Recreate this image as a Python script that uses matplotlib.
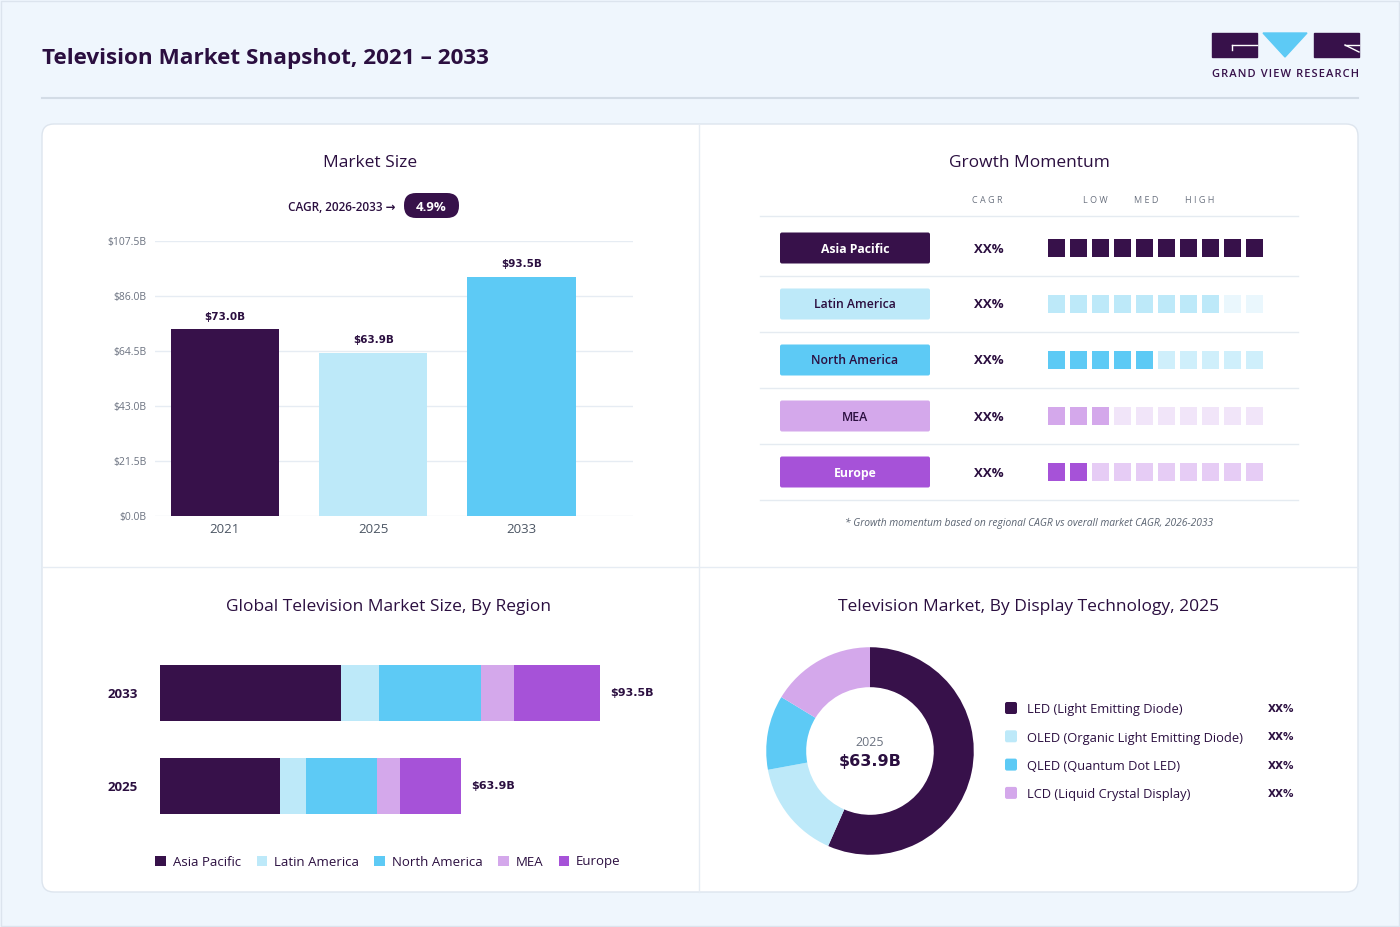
import matplotlib

matplotlib.use("Agg")
import matplotlib.pyplot as plt
from matplotlib.patches import FancyBboxPatch, Polygon, Rectangle

plt.rcParams["font.family"] = ["Open Sans", "DejaVu Sans"]

# --------------------------------------------------------------------------- #
# Data
# --------------------------------------------------------------------------- #
years = ["2021", "2025", "2033"]
market_size = [73.0, 63.9, 93.5]
y_ticks = [0.0, 21.5, 43.0, 64.5, 86.0, 107.5]
cagr_label = "4.9%"

regions = ["Asia Pacific", "Latin America", "North America", "MEA", "Europe"]
momentum_filled = [10, 8, 5, 3, 2]
momentum_cagr = ["XX%", "XX%", "XX%", "XX%", "XX%"]

region_years = ["2025", "2033"]
region_2025 = [25.5, 5.5, 15.1, 4.9, 12.9]
region_2033 = [38.5, 8.1, 21.7, 7.0, 18.2]

tech = ["LED (Light Emitting Diode)", "OLED (Organic Light Emitting Diode)",
        "QLED (Quantum Dot LED)", "LCD (Liquid Crystal Display)"]
tech_share = [56.6, 15.5, 11.6, 16.3]
tech_pct = ["XX%", "XX%", "XX%", "XX%"]

# --------------------------------------------------------------------------- #
# Style
# --------------------------------------------------------------------------- #
DARK = "#37114A"
LBLUE = "#BDE9F9"
SKY = "#5DCAF5"
LAV = "#D4A8EB"
PURP = "#A652D8"
INK = "#2B0F40"
GRAY = "#6B7280"
GRID = "#E6ECF3"
BG = "#EFF6FD"

region_colors = [DARK, LBLUE, SKY, LAV, PURP]
faded_colors = [DARK, "#EAF7FD", "#CFEFFB", "#F1E5F9", "#E6CCF5"]
label_text_colors = ["white", INK, INK, INK, "white"]
label_weights = ["bold", "semibold", "semibold", "semibold", "bold"]
year_colors = [DARK, LBLUE, SKY]
tech_colors = [DARK, LBLUE, SKY, LAV]

W, H = 1400, 927
fig = plt.figure(figsize=(W / 100, H / 100), dpi=100)
fig.patch.set_facecolor(BG)


def rect(x0, y0, x1, y1):
    """Pixel box (top-left origin) -> figure fraction rect."""
    return [x0 / W, 1 - y1 / H, (x1 - x0) / W, (y1 - y0) / H]


# overlay in pixel coordinates for card, dividers and text
ov = fig.add_axes([0, 0, 1, 1], zorder=0)
ov.set_xlim(0, W)
ov.set_ylim(H, 0)
ov.axis("off")

ov.add_patch(Rectangle((1, 1), W - 2, H - 2, fill=False, ec="#DCE4EE", lw=1))
ov.text(42, 58, "Television Market Snapshot, 2021 \u2013 2033", fontsize=16.2,
        fontweight="bold", color=INK, va="center", ha="left")
ov.plot([42, 1358], [98, 98], color="#D3DCE6", lw=1.5)

# logo
ov.add_patch(Rectangle((1212, 33), 45, 24, color=DARK))
ov.plot([1232, 1257], [45, 45], color="white", lw=1)
ov.plot([1232, 1232], [45, 50], color="white", lw=1)
ov.add_patch(Polygon([(1263, 33), (1307, 33), (1285, 57)], color=SKY))
ov.add_patch(Rectangle((1314, 33), 45, 24, color=DARK))
ov.plot([1345, 1359], [45, 45], color="white", lw=1)
ov.plot([1345, 1359], [45, 52], color="white", lw=1)
ov.text(1286, 74, "\u200a".join("GRAND VIEW RESEARCH"), fontsize=8.0, color=DARK,
        ha="center", va="center", fontweight="semibold")

# card
ov.add_patch(FancyBboxPatch((42, 124), 1316, 768,
                            boxstyle="round,pad=0,rounding_size=12",
                            fc="white", ec="#DDE5EE", lw=1))
ov.plot([699, 699], [124, 892], color=GRID, lw=1)
ov.plot([42, 1358], [567, 567], color=GRID, lw=1)

# panel titles
ov.text(370, 163, "Market Size", fontsize=12.5, color=INK, ha="center", va="center")
ov.text(1029, 163, "Growth Momentum", fontsize=12.5, color=INK, ha="center", va="center")
ov.text(388, 607, "Global Television Market Size, By Region", fontsize=12.5,
        color=INK, ha="center", va="center")
ov.text(1029, 607, "Television Market, By Display Technology, 2025", fontsize=12.5,
        color=INK, ha="center", va="center")

# --------------------------------------------------------------------------- #
# Market size
# --------------------------------------------------------------------------- #
ov.text(395, 207, "CAGR, 2026-2033 \u2192", fontsize=8.5, color=INK,
        ha="right", va="center", fontweight="semibold")
ov.add_patch(FancyBboxPatch((404, 193), 55, 25, boxstyle="round,pad=0,rounding_size=12",
                            fc=DARK, ec="none"))
ov.text(431.5, 207, cagr_label, fontsize=9.5, color="white", fontweight="bold",
        ha="center", va="center")

ax = fig.add_axes(rect(155, 241, 633, 516), zorder=1)
ax.patch.set_alpha(0)
xs = list(range(len(years)))
ax.bar(xs, market_size, width=0.73, color=year_colors, zorder=2)
for x, v in zip(xs, market_size):
    ax.text(x, v + 3.0, f"${v:.1f}B", ha="center", va="bottom", fontsize=7.5,
            fontweight="bold", color=INK, family="DejaVu Sans")
ax.set_xlim(-0.47, 2.75)
ax.set_ylim(0, 107.5)
ax.set_yticks(y_ticks)
ax.set_yticklabels([f"${t:.1f}B" for t in y_ticks], fontsize=7.5, color=GRAY)
ax.set_xticks(xs)
ax.set_xticklabels(years, fontsize=9.5, color="#4B5563")
ax.tick_params(length=0)
ax.tick_params(axis="y", pad=6)
ax.tick_params(axis="x", pad=5)
ax.grid(axis="y", color=GRID, lw=1, zorder=0)
for s in ax.spines.values():
    s.set_visible(False)

# --------------------------------------------------------------------------- #
# Growth momentum
# --------------------------------------------------------------------------- #
ov.text(987, 200, "C A G R", fontsize=6.5, color=GRAY, ha="center", va="center")
ov.text(1095, 200, "L O W", fontsize=6.5, color=GRAY, ha="center", va="center")
ov.text(1146, 200, "M E D", fontsize=6.5, color=GRAY, ha="center", va="center")
ov.text(1200, 200, "H I G H", fontsize=6.5, color=GRAY, ha="center", va="center")
for k in range(len(regions) + 1):
    ov.plot([760, 1298], [216 + 56 * k + (4 if k else 0)] * 2, color="#E5EBF1", lw=1)

am = fig.add_axes(rect(1040, 220, 1280, 500), zorder=1)
am.set_xlim(-0.75, 10.16)
am.set_ylim(4.5, -0.5)
am.axis("off")
n_sq = 10
for r, (name, filled) in enumerate(zip(regions, momentum_filled)):
    cols = [region_colors[r] if i < filled else faded_colors[r] for i in range(n_sq)]
    am.scatter(range(n_sq), [r] * n_sq, marker="s", s=165, c=cols, linewidths=0)
    yc = 248 + 56 * r
    ov.add_patch(FancyBboxPatch((780, yc - 15.5), 150, 31,
                                boxstyle="round,pad=0,rounding_size=2",
                                fc=region_colors[r], ec="none"))
    ov.text(855, yc + 1, name, fontsize=8.8, color=label_text_colors[r],
            fontweight=label_weights[r], ha="center", va="center")
    ov.text(989, yc + 1, momentum_cagr[r], fontsize=9.5, color=INK,
            fontweight="bold", ha="center", va="center")
ov.text(1029, 523, "* Growth momentum based on regional CAGR vs overall market CAGR, 2026-2033",
        fontsize=7.4, color="#5B6472", style="italic", ha="center", va="center")

# --------------------------------------------------------------------------- #
# Region stacked bars
# --------------------------------------------------------------------------- #
ab = fig.add_axes(rect(160, 650, 660, 830), zorder=1)
ab.patch.set_alpha(0)
region_data = [region_2025, region_2033]
lefts = [0.0, 0.0]
handles = []
for i, name in enumerate(regions):
    vals = [region_data[0][i], region_data[1][i]]
    h = ab.barh([0, 1], vals, left=lefts, height=0.6, color=region_colors[i], label=name)
    handles.append(h)
    lefts = [lefts[0] + vals[0], lefts[1] + vals[1]]
for y, tot in enumerate(lefts):
    ab.text(tot + 2.2, y, f"${tot:.1f}B", ha="left", va="center", fontsize=8,
            fontweight="bold", color=INK, family="DejaVu Sans")
ab.set_xlim(0, 106.25)
ab.set_ylim(-0.473, 1.462)
ab.set_yticks([0, 1])
ab.set_yticklabels(region_years, fontsize=9.5, fontweight="bold", color=INK)
ab.tick_params(length=0, axis="y", pad=16)
ab.set_xticks([])
for s in ab.spines.values():
    s.set_visible(False)
fig.legend(handles=handles, labels=regions, loc="center",
           bbox_to_anchor=(388 / W, 1 - 862 / H), ncol=5, frameon=False,
           fontsize=9.5, handlelength=0.8, handleheight=0.8, handletextpad=0.5,
           columnspacing=1.2, labelcolor=INK)

# --------------------------------------------------------------------------- #
# Donut
# --------------------------------------------------------------------------- #
ad = fig.add_axes(rect(760, 641, 980, 861), zorder=1)
ad.pie(tech_share, colors=tech_colors, startangle=90, counterclock=False,
       radius=1, wedgeprops=dict(width=0.385, linewidth=0))
ad.set_xlim(-1.06, 1.06)
ad.set_ylim(-1.06, 1.06)
ad.set_aspect("equal")
ad.text(0, 0.08, "2025", ha="center", va="center", fontsize=9, color=GRAY)
ad.text(0, -0.1, "$63.9B", ha="center", va="center", fontsize=11.5,
        fontweight="bold", color=INK, family="DejaVu Sans")
for k, (lab, c, p) in enumerate(zip(tech, tech_colors, tech_pct)):
    yc = 708 + 28.3 * k
    ov.add_patch(FancyBboxPatch((1005, yc - 6), 12, 12, boxstyle="round,pad=0,rounding_size=2",
                                fc=c, ec="none"))
    ov.text(1027, yc + 2, lab, fontsize=9.3, color=INK, ha="left", va="center")
    ov.text(1281, yc + 1, p, fontsize=7.5, color=INK, fontweight="bold",
            ha="center", va="center", family="DejaVu Sans")

fig.savefig("out.png", dpi=100, facecolor=BG)
